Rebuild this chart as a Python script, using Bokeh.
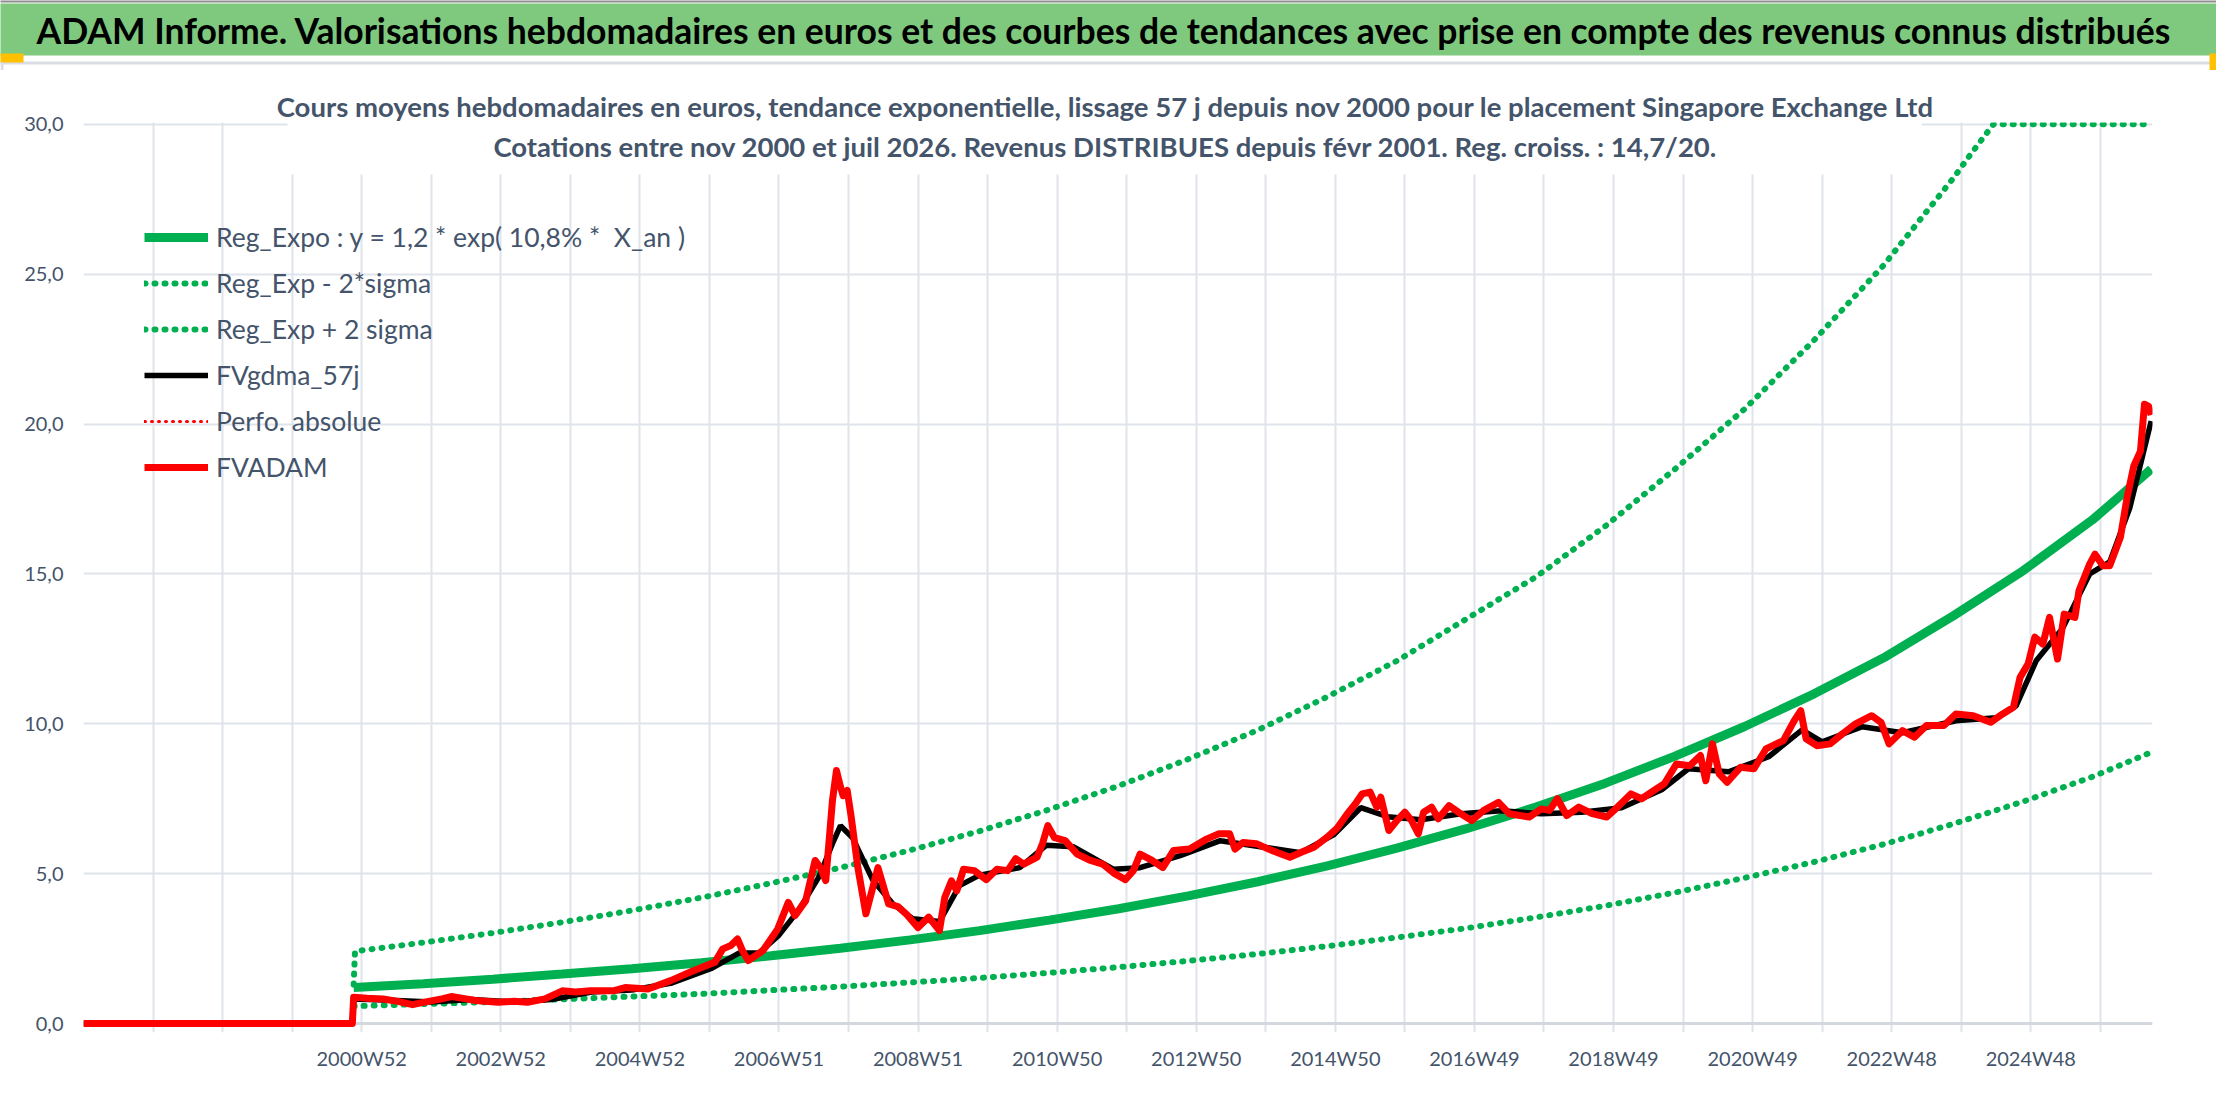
from bokeh.plotting import figure
from bokeh.layouts import column
from bokeh.models import Range1d, FixedTicker, Legend, LegendItem, Label, BoxAnnotation, Span
from bokeh.embed import file_html
from bokeh.resources import INLINE

FONT = "Lato"
SLATE = "#44546A"
GREEN = "#00B050"
RED = "#FF0000"

TITLE = ("ADAM Informe. Valorisations hebdomadaires en euros et des courbes de tendances "
         "avec prise en compte des revenus connus distribués")
SUB1 = ("Cours moyens hebdomadaires en euros, tendance exponentielle, lissage 57 j depuis "
        "nov 2000 pour le placement Singapore Exchange Ltd")
SUB2 = ("Cotations entre nov 2000 et juil 2026. Revenus DISTRIBUES depuis févr 2001. "
        "Reg. croiss. : 14,7/20.")

# x = week number, 0 = first week of the category axis (about 1996W52)
tick_labels = ["2000W52", "2002W52", "2004W52", "2006W51", "2008W51", "2010W50", "2012W50",
               "2014W50", "2016W49", "2018W49", "2020W49", "2022W48", "2024W48"]
tick_weeks = [208, 312, 416, 520, 624, 728, 832, 936, 1040, 1144, 1248, 1352, 1456]
grid_weeks = list(range(0, 1509, 52))

y_ticks = [0, 5, 10, 15, 20, 25, 30]
y_labels = ["0,0", "5,0", "10,0", "15,0", "20,0", "25,0", "30,0"]

# Reg_Expo trend and the +/- 2 sigma bands
trend_weeks = [202, 254, 306, 358, 410, 462, 514, 566, 618, 670, 722, 774, 826, 878, 930,
               982, 1034, 1086, 1138, 1190, 1242, 1294, 1346, 1398, 1450, 1502, 1546]
trend_vals = [1.20, 1.33, 1.48, 1.65, 1.83, 2.03, 2.26, 2.51, 2.79, 3.10, 3.45, 3.83, 4.26,
              4.73, 5.26, 5.85, 6.50, 7.22, 8.02, 8.92, 9.91, 11.0, 12.2, 13.6, 15.1, 16.8, 18.5]
low_vals = [0.58, 0.65, 0.72, 0.81, 0.90, 0.99, 1.11, 1.23, 1.37, 1.52, 1.69, 1.88, 2.09,
            2.32, 2.58, 2.87, 3.18, 3.54, 3.93, 4.37, 4.86, 5.39, 5.98, 6.66, 7.40, 8.23, 9.05]
up_weeks = [202, 203, 254, 306, 358, 410, 462, 514, 566, 618, 670, 722, 774, 826, 878, 930,
            982, 1034, 1086, 1138, 1190, 1242, 1294, 1346, 1398, 1411, 1428, 1450, 1502, 1546]
up_vals = [1.3, 2.41, 2.70, 3.02, 3.38, 3.77, 4.20, 4.68, 5.20, 5.78, 6.42, 7.14, 7.93, 8.82,
           9.79, 10.9, 12.1, 13.5, 14.9, 16.6, 18.5, 20.5, 22.8, 25.3, 28.2, 29.0, 30.0, 30.0,
           30.0, 30.0]

# FVgdma_57j (smoothed)
gdma_weeks = [0, 201, 202, 230, 260, 290, 320, 350, 380, 410, 440, 470, 490, 505, 520, 535,
              550, 560, 566, 575, 590, 605, 620, 640, 655, 670, 700, 720, 740, 770, 790, 820,
              850, 880, 910, 935, 955, 975, 1000, 1030, 1060, 1090, 1120, 1150, 1180, 1200,
              1230, 1260, 1285, 1300, 1330, 1360, 1400, 1430, 1445, 1460, 1480, 1500, 1515,
              1530, 1546]
gdma_vals = [0, 0, 0.82, 0.78, 0.72, 0.80, 0.72, 0.80, 1.05, 1.12, 1.35, 1.85, 2.35, 2.35,
             2.95, 3.8, 4.9, 6.0, 6.6, 6.2, 4.8, 4.0, 3.5, 3.4, 4.6, 4.95, 5.2, 5.95, 5.9, 5.15,
             5.2, 5.6, 6.1, 5.9, 5.7, 6.3, 7.2, 6.9, 6.8, 7.0, 7.1, 7.0, 7.05, 7.2, 7.8, 8.5,
             8.4, 8.9, 9.8, 9.4, 9.9, 9.7, 10.1, 10.2, 10.6, 12.1, 13.2, 15.0, 15.4, 17.2, 20.1]

# Perfo. absolue: nothing drawn in the chart
perf_weeks = [1546]
perf_vals = [float("nan")]

# FVADAM
adam_weeks = [0, 201, 202, 212, 224, 235, 246, 256, 268, 275, 285, 293, 310, 322, 332, 345,
              358, 368, 379, 396, 405, 422, 439, 456, 472, 478, 484, 489, 493, 497, 508, 519,
              527, 532, 540, 547, 551, 555, 560, 563, 566, 568, 571, 574, 579, 585, 594, 602,
              609, 615, 624, 632, 640, 644, 649, 653, 658, 666, 675, 683, 691, 697, 703, 713,
              717, 721, 726, 734, 743, 753, 762, 771, 779, 785, 790, 799, 807, 815, 827, 840,
              849, 857, 861, 867, 877, 886, 896, 902, 911, 920, 930, 937, 945, 951, 956, 962,
              967, 970, 976, 982, 988, 993, 998, 1002, 1008, 1013, 1021, 1028, 1038, 1047,
              1058, 1066, 1081, 1090, 1096, 1102, 1109, 1118, 1128, 1139, 1147, 1157, 1165,
              1174, 1182, 1191, 1201, 1209, 1213, 1218, 1223, 1229, 1239, 1249, 1258, 1271,
              1279, 1284, 1288, 1296, 1306, 1315, 1325, 1337, 1344, 1350, 1360, 1369, 1378,
              1391, 1400, 1413, 1426, 1435, 1443, 1448, 1454, 1459, 1465, 1470, 1476, 1481,
              1489, 1492, 1500, 1504, 1510, 1515, 1523, 1528, 1533, 1538, 1541, 1544, 1546]
adam_vals = [0, 0, 0.88, 0.84, 0.82, 0.74, 0.63, 0.72, 0.82, 0.90, 0.83, 0.77, 0.71, 0.74,
             0.71, 0.82, 1.09, 1.05, 1.09, 1.09, 1.20, 1.15, 1.43, 1.76, 2.04, 2.49, 2.60,
             2.82, 2.40, 2.10, 2.43, 3.15, 4.04, 3.60, 4.10, 5.44, 5.20, 4.77, 7.44, 8.44,
             7.90, 7.60, 7.78, 6.90, 5.20, 3.66, 5.20, 3.99, 3.90, 3.66, 3.20, 3.55, 3.10,
             4.21, 4.76, 4.43, 5.15, 5.10, 4.80, 5.15, 5.10, 5.50, 5.32, 5.55, 6.00, 6.60,
             6.20, 6.10, 5.65, 5.44, 5.32, 5.00, 4.80, 5.10, 5.65, 5.44, 5.20, 5.77, 5.82,
             6.16, 6.33, 6.33, 5.82, 6.04, 6.00, 5.82, 5.65, 5.55, 5.72, 5.88, 6.22, 6.50,
             7.00, 7.33, 7.66, 7.72, 7.22, 7.55, 6.44, 6.77, 7.05, 6.77, 6.33, 7.05, 7.22,
             6.83, 7.27, 7.05, 6.77, 7.11, 7.38, 7.00, 6.89, 7.16, 7.11, 7.50, 6.94, 7.22,
             7.00, 6.89, 7.22, 7.66, 7.50, 7.77, 8.00, 8.66, 8.60, 8.94, 8.10, 9.33, 8.33,
             8.05, 8.55, 8.50, 9.16, 9.44, 10.1, 10.44, 9.50, 9.27, 9.33, 9.66, 10.0, 10.27,
             10.05, 9.33, 9.77, 9.55, 9.94, 9.94, 10.33, 10.27, 10.05, 10.33, 10.55, 11.55,
             12.0, 12.89, 12.66, 13.55, 12.16, 13.66, 13.55, 14.44, 15.33, 15.66, 15.27,
             15.27, 16.22, 17.55, 18.6, 19.1, 20.66, 20.6, 20.3]


def box(fig, left, right, bottom, top, **kw):
    fig.add_layout(BoxAnnotation(left=left, right=right, bottom=bottom, top=top,
                                 left_units="screen", right_units="screen",
                                 bottom_units="screen", top_units="screen",
                                 fill_alpha=1, line_color=None, **kw))


# ---- header bar (its own small figure so it can span the full width)
head = figure(width=2216, height=70, x_range=Range1d(0, 1), y_range=Range1d(0, 1),
              x_axis_location=None, y_axis_location=None, min_border=0,
              output_backend="svg", toolbar_location=None)
head.frame_align = False
head.outline_line_color = None
head.grid.visible = False
box(head, -2, 2218, 68, 72, fill_color="#8E8E8E")
box(head, -2, 2218, 15, 67, fill_color="#7FC97F")
box(head, -2, 2218, 6, 9, fill_color="#DADDE3")
box(head, -2, 23, 8, 17, fill_color="#FFC000")
box(head, 2209, 2218, -2, 17, fill_color="#FFC000")
box(head, 0, 3, -2, 8, fill_color="#DADDE3")
head.add_layout(Label(x=36, y=40, x_units="screen", y_units="screen", text=TITLE,
                      text_font=FONT, text_font_style="bold", text_font_size="35.5px",
                      text_color="black", text_baseline="middle", text_align="left"))

# ---- main chart
p = figure(width=2216, height=1036, x_range=Range1d(0, 1547), y_range=Range1d(-0.3, 31.33),
           output_backend="svg", toolbar_location=None,
           min_border_left=83, min_border_right=64, min_border_top=14, min_border_bottom=74)
p.frame_align = False
p.outline_line_color = None

p.xaxis.ticker = FixedTicker(ticks=grid_weeks)
overrides = {w: "" for w in grid_weeks}
overrides.update(dict(zip(tick_weeks, tick_labels)))
p.xaxis.major_label_overrides = overrides
p.yaxis.ticker = FixedTicker(ticks=y_ticks)
p.yaxis.major_label_overrides = dict(zip(y_ticks, y_labels))
for ax in (p.xaxis, p.yaxis):
    ax.axis_line_color = None
    ax.major_tick_line_color = None
    ax.minor_tick_line_color = None
    ax.major_tick_out = 0
    ax.major_tick_in = 0
    ax.major_label_text_font = FONT
    ax.major_label_text_font_size = "20px"
    ax.major_label_text_color = SLATE
p.xaxis.major_label_standoff = 13
p.yaxis.major_label_standoff = 20

for g in (p.xgrid, p.ygrid):
    g.grid_line_color = "#DFE3EA"
    g.grid_line_width = 2
p.add_layout(Span(location=0, dimension="width", line_color="#D3D8DF", line_width=3,
                  level="underlay"))

r_trend = p.line(trend_weeks, trend_vals, color=GREEN, line_width=9)
r_low = p.line(trend_weeks, low_vals, color=GREEN, line_width=6, line_dash="1 9",
               line_cap="round")
r_up = p.line(up_weeks, up_vals, color=GREEN, line_width=6, line_dash="1 9",
              line_cap="round")
r_gdma = p.line(gdma_weeks, gdma_vals, color="black", line_width=5.5)
r_perf = p.line(perf_weeks, perf_vals, color=RED, line_width=3, line_dash="1 6",
                line_cap="round")
r_adam = p.line(adam_weeks, adam_vals, color=RED, line_width=7, line_join="round")

# blank space above the plot area and behind the chart title
box(p, -5, 2075, 910, 960, fill_color="white")
box(p, 204, 1838, 858, 912, fill_color="white")
p.add_layout(Label(x=1022, y=926, x_units="screen", y_units="screen", text=SUB1,
                   text_font=FONT, text_font_style="bold", text_font_size="27.5px",
                   text_color=SLATE, text_baseline="middle", text_align="center"))
p.add_layout(Label(x=1022, y=886, x_units="screen", y_units="screen", text=SUB2,
                   text_font=FONT, text_font_style="bold", text_font_size="27.5px",
                   text_color=SLATE, text_baseline="middle", text_align="center"))

legend = Legend(items=[
    LegendItem(label="Reg_Expo : y = 1,2 * exp( 10,8% *  X_an )", renderers=[r_trend]),
    LegendItem(label="Reg_Exp - 2*sigma", renderers=[r_low]),
    LegendItem(label="Reg_Exp + 2 sigma", renderers=[r_up]),
    LegendItem(label="FVgdma_57j", renderers=[r_gdma]),
    LegendItem(label="Perfo. absolue", renderers=[r_perf]),
    LegendItem(label="FVADAM", renderers=[r_adam]),
], location=(61, 545), margin=0, padding=0, spacing=6, glyph_width=64, glyph_height=40,
    label_height=40, label_standoff=8, border_line_color=None, background_fill_alpha=0,
    label_text_font=FONT, label_text_font_size="26.5px", label_text_color=SLATE)
p.add_layout(legend)

page = column(head, p, spacing=0)
open("out.html", "w").write(file_html(page, INLINE))
